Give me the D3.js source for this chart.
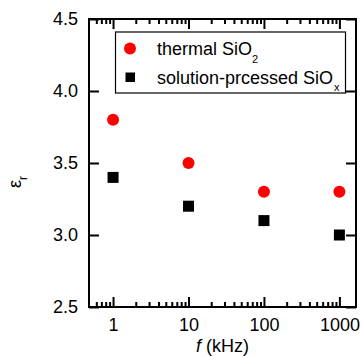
<!DOCTYPE html>
<html>
<head>
<meta charset="utf-8">
<script src="https://cdn.jsdelivr.net/npm/d3@7"></script>
<style>
  body { margin: 0; background: #fff; }
  svg { display: block; font-family: Arial, "Liberation Sans", sans-serif; }
</style>
</head>
<body>
<div id="chart"></div>
<script>
// data
const freq = [1, 10, 100, 1000];
const thermal = [3.8, 3.5, 3.3, 3.3];
const solution = [3.4, 3.2, 3.1, 3.0];
const xTickLabels = ["1", "10", "100", "1000"];
const yTicks = [2.5, 3.0, 3.5, 4.0, 4.5];
const minorX = [0.6, 0.7, 0.8, 0.9, 2, 3, 4, 5, 6, 7, 8, 9, 20, 30, 40, 50, 60, 70, 80, 90,
                200, 300, 400, 500, 600, 700, 800, 900];

const width = 362, height = 357;
const plotL = 89, plotR = 356, plotT = 19, plotB = 307;

const svg = d3.select("#chart").append("svg")
  .attr("width", width)
  .attr("height", height);

const x = d3.scaleLog().domain([0.48, 1660]).range([plotL, plotR]);
const y = d3.scaleLinear().domain([2.5, 4.5]).range([plotB, plotT]);

// bottom axis
const gx = svg.append("g")
  .attr("transform", `translate(0,${plotB})`)
  .call(d3.axisBottom(x).tickValues(freq).tickSize(-10).tickPadding(11)
    .tickFormat((d, i) => xTickLabels[i]));
gx.append("g").call(d3.axisBottom(x).tickValues(minorX).tickSize(-5).tickFormat(""));

// top axis (ticks only)
const gxt = svg.append("g")
  .attr("transform", `translate(0,${plotT})`)
  .call(d3.axisTop(x).tickValues(freq).tickSize(-10).tickFormat(""));
gxt.append("g").call(d3.axisTop(x).tickValues(minorX).tickSize(-5).tickFormat(""));

// left axis
svg.append("g")
  .attr("transform", `translate(${plotL},0)`)
  .call(d3.axisLeft(y).tickValues(yTicks).tickSize(-10).tickPadding(11).tickFormat(d3.format(".1f")));

// right axis (ticks only)
svg.append("g")
  .attr("transform", `translate(${plotR},0)`)
  .call(d3.axisRight(y).tickValues(yTicks).tickSize(-10).tickFormat(""));

svg.selectAll(".domain").remove();
svg.selectAll(".tick line").attr("stroke", "#000").attr("stroke-width", 2);
svg.selectAll(".tick text")
  .attr("fill", "#000")
  .style("font-size", "18px")
  .style("font-family", "Arial, 'Liberation Sans', sans-serif");

// frame
svg.append("rect")
  .attr("x", plotL).attr("y", plotT)
  .attr("width", plotR - plotL).attr("height", plotB - plotT)
  .attr("fill", "none").attr("stroke", "#000").attr("stroke-width", 2);

// points
svg.append("g").selectAll("circle")
  .data(freq)
  .join("circle")
  .attr("cx", d => x(d))
  .attr("cy", (d, i) => y(thermal[i]))
  .attr("r", 6)
  .attr("fill", "#ff0000");

svg.append("g").selectAll("rect")
  .data(freq)
  .join("rect")
  .attr("x", d => x(d) - 5.5)
  .attr("y", (d, i) => y(solution[i]) - 5.5)
  .attr("width", 11)
  .attr("height", 11)
  .attr("fill", "#000");

// legend
const lg = svg.append("g");
lg.append("rect")
  .attr("x", 115.5).attr("y", 32)
  .attr("width", 230).attr("height", 61)
  .attr("fill", "#fff").attr("stroke", "#000").attr("stroke-width", 1.2);
lg.append("circle").attr("cx", 130).attr("cy", 48.5).attr("r", 6).attr("fill", "#ff0000");
lg.append("rect").attr("x", 125.5).attr("y", 72.5).attr("width", 9.5).attr("height", 9.5).attr("fill", "#000");

const t1 = lg.append("text").attr("x", 157).attr("y", 54.5).style("font-size", "18px");
t1.append("tspan").text("thermal SiO");
t1.append("tspan").attr("dy", 8.5).style("font-size", "11px").text("2");

const t2 = lg.append("text").attr("x", 157).attr("y", 83.5).style("font-size", "18px");
t2.append("tspan").text("solution-prcessed SiO");
t2.append("tspan").attr("dy", 7.5).attr("dx", 1).style("font-size", "11px").text("x");

// axis titles
const xl = svg.append("text")
  .attr("x", (plotL + plotR) / 2)
  .attr("y", 352)
  .attr("text-anchor", "middle")
  .style("font-size", "18px");
xl.append("tspan").style("font-style", "italic").text("f");
xl.append("tspan").text(" (kHz)");

const yl = svg.append("text")
  .attr("transform", "translate(21,188) rotate(-90)")
  .style("font-size", "18px");
yl.append("tspan").text("ε");
yl.append("tspan").attr("dy", 6).style("font-size", "12px").text("r");
</script>
</body>
</html>
